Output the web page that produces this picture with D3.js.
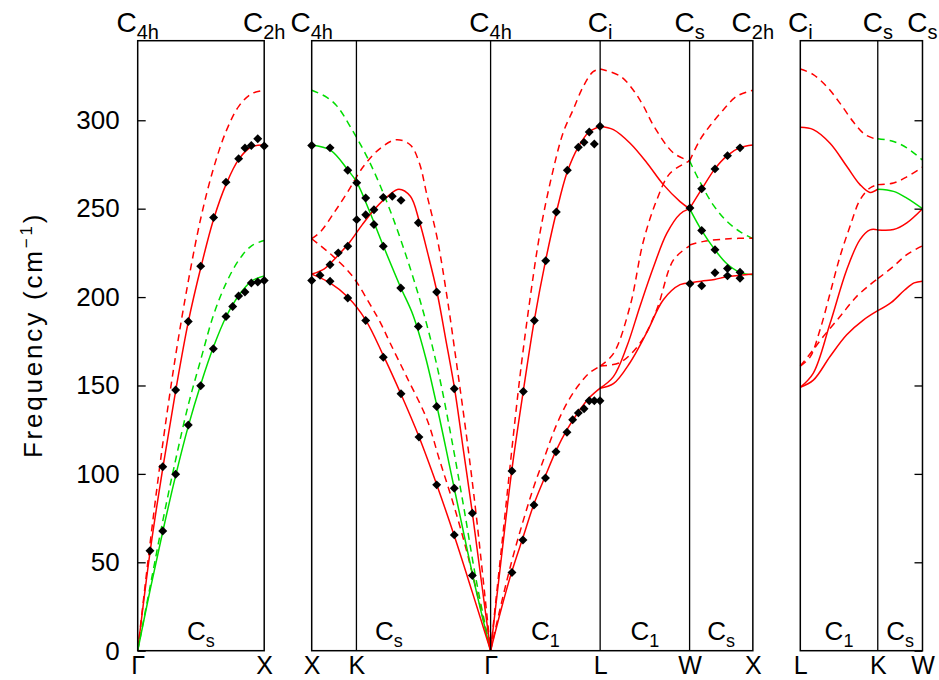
<!DOCTYPE html>
<html>
<head>
<meta charset="utf-8">
<script src="https://cdn.jsdelivr.net/npm/d3@7"></script>
<style>
  body { margin: 0; background: #fff; }
  svg { display: block; font-family: "Liberation Sans", Arial, sans-serif; }
</style>
</head>
<body>
<svg width="939" height="680"></svg>
<script>
// ---- data: [k, frequency cm^-1] ----
var yTicks = [0, 50, 100, 150, 200, 250, 300];

// panel 1: Gamma -> X
var gxRed       = [[0,0],[0.1,57],[0.2,104],[0.3,147],[0.4,186],[0.5,217],[0.6,244],[0.7,264],[0.8,278],[0.9,285],[1,286]];
var gxRedDash   = [[0,0],[0.1,62],[0.2,118],[0.3,167],[0.4,209],[0.5,245],[0.6,273],[0.7,294],[0.8,308],[0.9,315],[1,317]];
var gxGreen     = [[0,0],[0.1,35],[0.2,68],[0.3,99],[0.4,127],[0.5,151],[0.6,172],[0.7,189],[0.8,201],[0.9,209],[1,212]];
var gxGreenDash = [[0,0],[0.1,37],[0.2,74],[0.3,108],[0.4,139],[0.5,165],[0.6,190],[0.7,208],[0.8,221],[0.9,229],[1,232]];
var gxObs = [[0.097,56.5],[0.198,104],[0.198,67.7],[0.3,147.4],[0.3,99.8],[0.4,186.2],[0.4,127.7],
  [0.498,217.5],[0.498,149.8],[0.6,245],[0.598,170.8],[0.698,265],[0.698,189],[0.751,194.7],
  [0.798,278.3],[0.798,200.6],[0.848,284.3],[0.848,202.9],[0.898,285.7],[0.898,208],
  [0.949,289.5],[0.949,208.5],[1,285.5],[1,209.4]];

// panel 2: X -> K -> Gamma -> L -> W -> X
var xgGreen      = [[0,286],[0.15,283],[0.285,272],[0.356,265],[0.46,248],[0.566,229],[0.7,206],[0.8,190],[0.9,166],[1.0,135],[1.1,101],[1.2,67],[1.3,34],[1.4142,0]];
var xgGreenDash  = [[0,317],[0.12,313],[0.2,308],[0.3,297],[0.46,276],[0.62,249],[0.78,216],[0.9,187],[1.0,158],[1.1,122],[1.2,82],[1.3,40],[1.4142,0]];
var xgRedUp      = [[0,213],[0.1,216],[0.2,223],[0.3,231],[0.4,241],[0.5,250],[0.6,257],[0.69,261],[0.78,257],[0.85,243],[0.92,224],[0.99,203],[1.06,176],[1.13,148],[1.2,113],[1.27,78],[1.34,40],[1.4142,0]];
var xgRedDown    = [[0,213],[0.145,208],[0.285,200],[0.427,187],[0.566,167],[0.706,145],[0.848,121],[0.988,94],[1.127,65],[1.27,33],[1.4142,0]];
var xgRedDashUp  = [[0,233],[0.07,237],[0.17,247],[0.28,259],[0.41,274],[0.54,284],[0.67,289],[0.78,286],[0.85,276],[0.91,258],[0.99,234],[1.07,200],[1.15,160],[1.23,118],[1.3,77],[1.4142,0]];
var xgRedDashDown= [[0,233],[0.07,229],[0.17,223],[0.32,212],[0.46,196],[0.54,186],[0.62,174],[0.75,155],[0.91,131],[1.01,108],[1.12,83],[1.23,55],[1.4142,0]];
var glRed        = [[1.4142,0],[1.5,53],[1.58,101],[1.673,147],[1.76,187],[1.85,221],[1.934,248],[2.021,271],[2.108,285],[2.194,293.5],[2.2802,296.5]];
var glRedDash    = [[1.4142,0],[1.5,58],[1.646,155],[1.724,198],[1.804,236],[1.896,268],[1.988,293],[2.067,306],[2.146,319],[2.225,327.5],[2.2802,329]];
var glRedLow     = [[1.4142,0],[1.5,24],[1.583,45],[1.67,64],[1.757,83],[1.848,99],[1.931,113],[2.018,125],[2.108,135],[2.194,143],[2.2802,148.5]];
var glRedLowDash = [[1.4142,0],[1.5,27],[1.583,51],[1.67,73],[1.757,93],[1.848,111],[1.931,127],[2.018,140],[2.108,150],[2.194,157],[2.2802,161]];
var lwRedA       = [[2.2802,296.5],[2.385,294.7],[2.517,287],[2.649,276],[2.78,263.6],[2.912,254],[2.9873,250]];
var lwRedB       = [[2.2802,148.5],[2.385,155],[2.491,172],[2.596,195],[2.702,217],[2.807,236],[2.912,247],[2.9873,250]];
var lwRedC       = [[2.2802,148.5],[2.385,151],[2.517,163],[2.649,180],[2.78,198.5],[2.912,207],[2.9873,208]];
var lwRedDashA   = [[2.2802,329],[2.438,325],[2.543,317],[2.623,308],[2.702,297],[2.86,281.5],[2.9873,277]];
var lwRedDashB   = [[2.2802,161],[2.385,168],[2.517,195],[2.62,231],[2.728,255],[2.833,270],[2.9873,277]];
var lwRedDashC   = [[2.2802,161],[2.438,163],[2.596,174],[2.728,193],[2.86,221],[2.9873,229]];
var wxRedA       = [[2.9873,250],[3.083,261],[3.187,272.5],[3.285,280],[3.385,284.5],[3.4873,286]];
var wxGreen      = [[2.9873,250],[3.08,238],[3.185,227],[3.28,219],[3.385,214],[3.4873,212.6]];
var wxRedB       = [[2.9873,208],[3.08,209],[3.185,210],[3.28,211.5],[3.385,212.3],[3.4873,213]];
var wxRedDashA   = [[2.9873,277],[3.07,289],[3.15,297],[3.255,306],[3.36,313.6],[3.4873,317]];
var wxGreenDash  = [[2.9873,277],[3.07,265],[3.175,252],[3.28,243],[3.385,237],[3.4873,233]];
var wxRedDashB   = [[2.9873,229.5],[3.1,231.5],[3.3,233],[3.4873,233.3]];
var xObs = [[0,285.7],[0.145,284.4],[0.285,271.7],[0.356,264.6],[0.427,256],[0.566,256.4],[0.637,257],[0.706,254.7],
  [0.356,243.8],[0.427,246.6],[0.492,249.4],[0.492,241],[0.566,228.7],[0.285,228.7],[0.21,225],[0.145,218.3],
  [0.066,212.3],[0,209.4],[0.145,208.9],[0.285,199.5],[0.427,186.8],[0.843,242],[0.704,205.1],[0.988,202.9],
  [0.843,183.4],[0.566,166],[0.706,145.3],[0.848,120.8],[0.988,93.8],[1.127,65.5],[1.27,42.5],[0.988,138.1],
  [1.127,91.9],[1.127,148.1],[1.27,77.8],
  [1.583,101.6],[1.673,146.6],[1.76,186.8],[1.85,220.6],[1.934,248.1],[2.021,271.7],[2.108,284.7],[2.153,287.5],
  [2.194,293.4],[2.234,286.6],[2.279,296.6],
  [1.583,44.2],[1.67,62.6],[1.757,82.4],[1.848,97.7],[1.931,112.5],[2.018,123.6],[2.063,130.6],[2.108,134.5],
  [2.153,136.8],[2.194,141.4],[2.234,141.4],[2.279,141.4],
  [2.99,250.4],[2.99,207.5],[3.083,261.3],[3.083,237.6],[3.083,206.4],[3.188,272.5],[3.188,226.8],[3.188,213.8],
  [3.287,280],[3.287,216.2],[3.287,212],[3.386,284.4],[3.386,214],[3.386,210.6]];

// panel 3: L -> K -> W
var lkRedA     = [[0,296],[0.103,294.7],[0.235,287],[0.367,274],[0.472,263.6],[0.551,259.2],[0.6124,261]];
var lkRedDashA = [[0,329],[0.1,326],[0.21,319],[0.31,310],[0.42,299],[0.51,292],[0.6124,289]];
var lkRedDashB = [[0,161],[0.077,166],[0.156,181.5],[0.235,202],[0.314,223],[0.393,240],[0.472,255],[0.551,261.7],[0.6124,263.6]];
var lkRedB     = [[0,149],[0.103,157],[0.235,185],[0.367,215.5],[0.472,232.5],[0.551,238],[0.6124,238]];
var lkRedC     = [[0,149],[0.103,153],[0.235,166.4],[0.367,178.7],[0.498,187],[0.6124,192.3]];
var lkRedDashC = [[0,161],[0.1,170],[0.182,177.7],[0.314,189],[0.446,200.4],[0.551,207],[0.6124,210.4]];
var kwGreen    = [[0.6124,261],[0.737,259.8],[0.842,256],[0.9659,250]];
var kwRed      = [[0.6124,238],[0.737,238.2],[0.842,242],[0.9659,250]];
var kwRedDash  = [[0.6124,263.6],[0.737,264.5],[0.842,268],[0.9659,273.5]];
var kwGreenDash= [[0.6124,289.6],[0.737,288],[0.842,284.4],[0.9659,277.5]];
var kwRedLow   = [[0.6124,192.3],[0.72,197],[0.825,204],[0.9,208],[0.9659,209]];
var kwRedDashLow=[[0.6124,210.4],[0.737,217.4],[0.842,224],[0.9659,229]];

// high-symmetry points and labels
var p1Sym = [0, 1],  p1Names = ["Γ", "X"], p1Groups = [["C","4h"],["C","2h"]];
var p2Sym = [0, 0.3536, 1.4142, 2.2802, 2.9873, 3.4873], p2Names = ["X","K","Γ","L","W","X"];
var p2Groups = [[0,"C","4h"],[1.4142,"C","4h"],[2.2802,"C","i"],[2.9873,"C","s"],[3.4873,"C","2h"]];
var p3Sym = [0, 0.6124, 0.9659], p3Names = ["L","K","W"], p3Groups = [["C","i"],["C","s"],["C","s"]];
var segLabels1 = [[0.5,"s"]];
var segLabels2 = [[0.61,"s"],[1.847,"1"],[2.634,"1"],[3.237,"s"]];
var segLabels3 = [[0.306,"1"],[0.789,"s"]];

// ---- drawing ----
var red = "#ff0000", green = "#00dd00";
var svg = d3.select("svg");
var y = d3.scaleLinear().domain([0, 345]).range([650.7, 40.7]);
var pxPerK = 126.5;

function xScale(x0, len) { return d3.scaleLinear().domain([0, len]).range([x0, x0 + len * pxPerK]); }
var x1 = xScale(137.7, 1), x2 = xScale(311.7, 3.4873), x3 = xScale(800.3, 0.9659);

var series = [
  [x1, gxRedDash, red, true], [x1, gxGreenDash, green, true], [x1, gxRed, red, false], [x1, gxGreen, green, false],
  [x2, xgGreenDash, green, true], [x2, xgRedDashUp, red, true], [x2, xgRedDashDown, red, true],
  [x2, glRedDash, red, true], [x2, glRedLowDash, red, true],
  [x2, lwRedDashA, red, true], [x2, lwRedDashB, red, true], [x2, lwRedDashC, red, true],
  [x2, wxRedDashA, red, true], [x2, wxGreenDash, green, true], [x2, wxRedDashB, red, true],
  [x2, xgGreen, green, false], [x2, xgRedUp, red, false], [x2, xgRedDown, red, false],
  [x2, glRed, red, false], [x2, glRedLow, red, false],
  [x2, lwRedA, red, false], [x2, lwRedB, red, false], [x2, lwRedC, red, false],
  [x2, wxRedA, red, false], [x2, wxGreen, green, false], [x2, wxRedB, red, false],
  [x3, lkRedDashA, red, true], [x3, lkRedDashB, red, true], [x3, lkRedDashC, red, true],
  [x3, kwRedDash, red, true], [x3, kwGreenDash, green, true], [x3, kwRedDashLow, red, true],
  [x3, lkRedA, red, false], [x3, lkRedB, red, false], [x3, lkRedC, red, false],
  [x3, kwGreen, green, false], [x3, kwRed, red, false], [x3, kwRedLow, red, false]
];

series.forEach(function(s) {
  var line = d3.line()
    .x(d => s[0](d[0]))
    .y(d => y(d[1]))
    .curve(d3.curveCatmullRom.alpha(0.5));
  svg.append("path")
    .attr("d", line(s[1]))
    .attr("fill", "none")
    .attr("stroke", s[2])
    .attr("stroke-width", 1.5)
    .attr("stroke-dasharray", s[3] ? "7,5" : null);
});

// frames and internal separators
[[x1, p1Sym], [x2, p2Sym], [x3, p3Sym]].forEach(function(p) {
  var xs = p[0], r = xs.range();
  svg.append("rect")
    .attr("x", r[0]).attr("y", y(345))
    .attr("width", r[1] - r[0]).attr("height", y(0) - y(345))
    .attr("fill", "none").attr("stroke", "#000").attr("stroke-width", 1.5);
  p[1].slice(1, -1).forEach(function(k) {
    svg.append("line")
      .attr("x1", xs(k)).attr("x2", xs(k))
      .attr("y1", y(345)).attr("y2", y(0))
      .attr("stroke", "#000").attr("stroke-width", 1.3);
  });
});

// observed points
function drawObs(xs, pts) {
  svg.append("g").selectAll("path")
    .data(pts).enter()
    .append("path")
    .attr("d", d3.symbol(d3.symbolSquare, 40))
    .attr("transform", d => "translate(" + xs(d[0]) + "," + y(d[1]) + ") rotate(45)")
    .attr("fill", "#000");
}
drawObs(x1, gxObs);
drawObs(x2, xObs);

// y axis ticks
var yAxis = svg.append("g")
  .attr("transform", "translate(137.7,0)")
  .call(d3.axisLeft(y).tickValues(yTicks).tickSize(-8).tickPadding(18));
yAxis.select(".domain").remove();
yAxis.selectAll("text").style("font-size", "26px").style("font-family", "Liberation Sans, Arial, sans-serif").attr("fill", "#000");
yAxis.selectAll("line").attr("stroke-width", 1.3);

var yAxisR = svg.append("g")
  .attr("transform", "translate(922.5,0)")
  .call(d3.axisRight(y).tickValues(yTicks).tickSize(-8).tickFormat(""));
yAxisR.select(".domain").remove();
yAxisR.selectAll("line").attr("stroke-width", 1.3);

// bottom labels
[[x1, p1Sym, p1Names], [x2, p2Sym, p2Names], [x3, p3Sym, p3Names]].forEach(function(p) {
  var g = svg.append("g")
    .attr("transform", "translate(0," + y(0) + ")")
    .call(d3.axisBottom(p[0]).tickValues(p[1]).tickFormat((d, i) => p[2][i]).tickSize(0).tickPadding(6));
  g.select(".domain").remove();
  g.selectAll("text").style("font-size", "25px").style("font-family", "Liberation Sans, Arial, sans-serif").attr("fill", "#000");
});

// point group labels (top and inside)
function groupLabel(xpos, ypos, main, sub, size, subSize) {
  var t = svg.append("text")
    .attr("x", xpos).attr("y", ypos)
    .attr("text-anchor", "middle")
    .style("font-size", size + "px");
  t.append("tspan").text(main);
  t.append("tspan").attr("dy", 7).style("font-size", subSize + "px").text(sub);
}
p1Groups.forEach((g, i) => groupLabel(x1(p1Sym[i]), 32, g[0], g[1], 28, 20));
p2Groups.forEach(g => groupLabel(x2(g[0]), 32, g[1], g[2], 28, 20));
p3Groups.forEach((g, i) => groupLabel(x3(p3Sym[i]), 32, g[0], g[1], 28, 20));
segLabels1.forEach(s => groupLabel(x1(s[0]), 640, "C", s[1], 26, 18));
segLabels2.forEach(s => groupLabel(x2(s[0]), 640, "C", s[1], 26, 18));
segLabels3.forEach(s => groupLabel(x3(s[0]), 640, "C", s[1], 26, 18));

// y axis title
var yt = svg.append("text")
  .attr("transform", "translate(42,335) rotate(-90)")
  .attr("text-anchor", "middle")
  .style("font-size", "26px")
  .style("letter-spacing", "2.8px");
yt.append("tspan").text("Frequency (cm");
yt.append("tspan").attr("dy", -10).style("font-size", "17px").text("−1");
yt.append("tspan").attr("dy", 10).text(")");
</script>
</body>
</html>
